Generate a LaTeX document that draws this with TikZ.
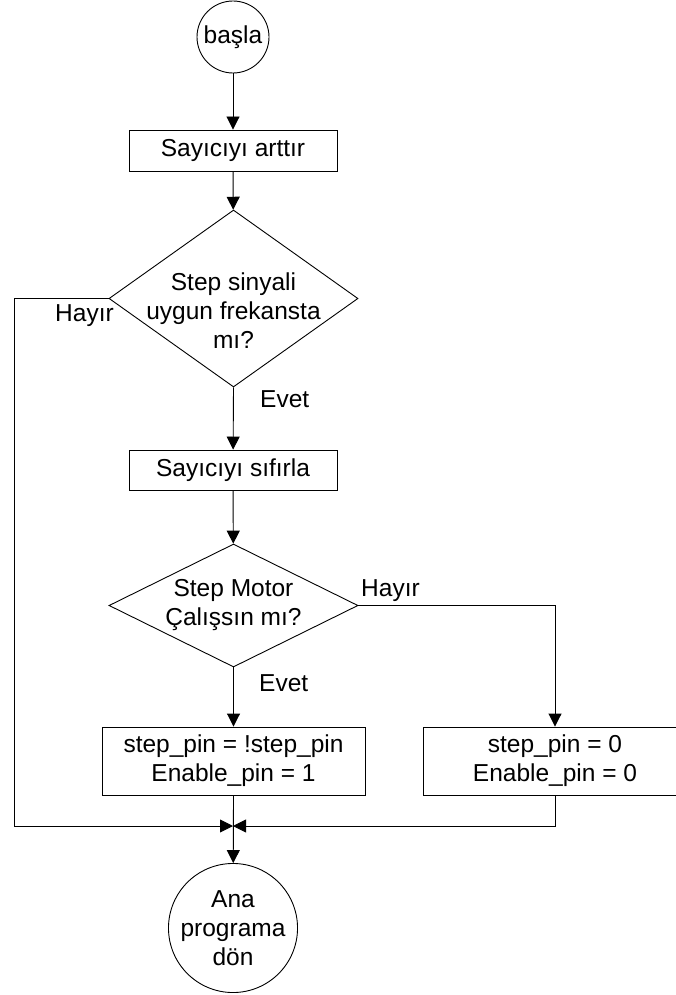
\documentclass[tikz,border=0pt]{standalone}
\usepackage{fontspec}
\setmainfont{Liberation Sans}
\usetikzlibrary{shapes.geometric,arrows.meta}
\begin{document}
\begin{tikzpicture}[x=1pt,y=-1pt,
  every node/.style={font=\fontsize{24.5}{29}\selectfont},
  line/.style={draw=black,line width=0.9pt},
  arr/.style={line,-{Triangle[length=13pt,width=13pt]}},
  proc/.style={line,rectangle,inner sep=0pt,align=center},
  term/.style={line,circle,inner sep=0pt,align=center},
  decide/.style={line,diamond,inner sep=0pt,minimum width=249pt},
  lbl/.style={inner sep=0pt,anchor=base west}]
  \useasboundingbox (0,0) rectangle (676,995);
  \clip (0,0) rectangle (676,995);

  % terminals
  \node[term,minimum size=72pt]  (s) at (233,37)  {başla};
  \node[term,minimum size=119pt] (e) at (233,928) {Ana\\programa\\dön};

  % process boxes
  \node[proc,minimum width=208pt,minimum height=41pt] (r1) at (233,150.5) {Sayıcıyı arttır};
  \node[proc,minimum width=208pt,minimum height=40pt] (r2) at (233,470) {Sayıcıyı sıfırla};
  \node[proc,minimum width=263pt,minimum height=68pt] (r3) at (233.5,761) {step\_pin = !step\_pin\\Enable\_pin = 1};
  \node[proc,minimum width=264pt,minimum height=68pt] (r4) at (555,761) {step\_pin = 0\\Enable\_pin = 0};

  % decisions
  \node[decide,minimum height=177pt] (d1) at (233.5,298.5) {};
  \node[align=center,inner sep=0pt] (t1) at (233.5,311) {Step sinyali\\uygun frekansta\\mı?};
  \node[decide,minimum height=123pt] (d2) at (233.5,605.5) {};
  \node[align=center,inner sep=0pt] (t2) at (233.5,605.5) {Step Motor\\Çalışsın mı?};

  % helper points
  \coordinate (j) at (233,826);
  \coordinate (lx) at (14,0);
  \coordinate (rx) at (555,0);

  % connectors
  \draw[arr] (s) -- (r1);
  \draw[arr] (r1) -- (d1);
  \draw[arr] (d1.south) -- (r2);
  \draw[arr] (r2) -- (d2);
  \draw[arr] (d2.south) -- (r3);
  \draw[arr] (d2.east) -- (d2.east -| rx) -- (r4.north);
  \draw[arr] (d1.west) -- (d1.west -| lx) |- (j);
  \draw[arr] (r4.south) |- (j);
  \draw[arr] (r3.south) -- (e);

  % branch labels
  \node[lbl] (h1) at (55,321) {Hayır};
  \node[lbl] (v1) at (260,407) {Evet};
  \node[lbl] (h2) at (361,596) {Hayır};
  \node[lbl] (v2) at (259,691) {Evet};
\end{tikzpicture}
\end{document}
